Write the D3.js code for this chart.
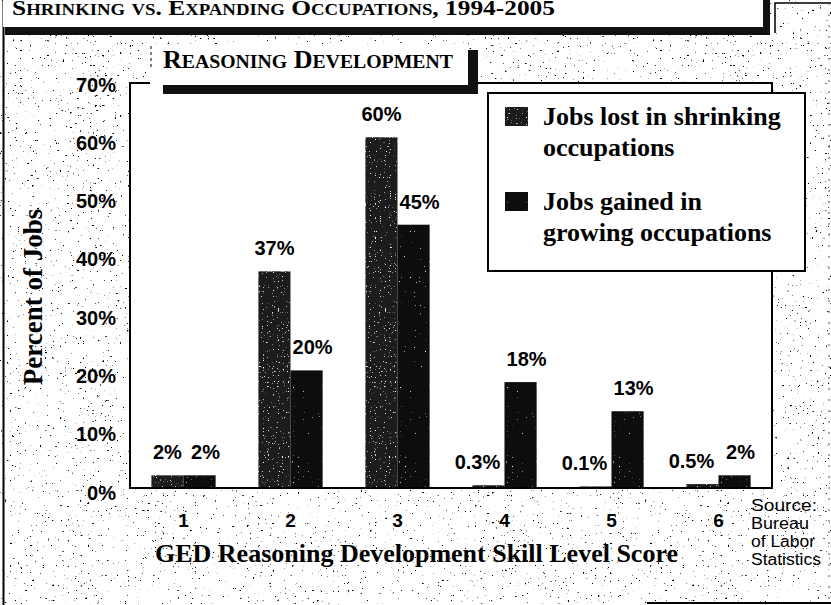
<!DOCTYPE html>
<html lang="en">
<head>
<meta charset="UTF-8">
<title>Reasoning Development</title>
<script src="https://d3js.org/d3.v7.min.js"></script>
<style>
  body, html { margin: 0; padding: 0; background: #fff; overflow: hidden; }
  svg { display: block; }
</style>
</head>
<body>
<div id="chart"></div>
<script>
// chart data
const categories = ["1", "2", "3", "4", "5", "6"];
const lostValues = [2, 37, 60, 0.3, 0.1, 0.5];
const gainedValues = [2, 20, 45, 18, 13, 2];
const lostLabels = ["2%", "37%", "60%", "0.3%", "0.1%", "0.5%"];
const gainedLabels = ["2%", "20%", "45%", "18%", "13%", "2%"];
const yTicks = [0, 10, 20, 30, 40, 50, 60, 70];
const legendLines = [["Jobs lost in shrinking", "occupations"], ["Jobs gained in", "growing occupations"]];
const sourceLines = ["Source:", "Bureau", "of Labor", "Statistics"];

const W = 831, H = 605;
const SANS = "'Liberation Sans', Arial, Helvetica, sans-serif";
const SERIF = "'Liberation Serif', 'Times New Roman', serif";
const plot = {left: 130, right: 772, top: 83, bottom: 487};

const svg = d3.select("#chart").append("svg")
    .attr("width", W).attr("height", H);

const defs = svg.append("defs");

// scanner speckle on the paper
const dots = defs.append("filter").attr("id", "dots")
    .attr("filterUnits", "userSpaceOnUse")
    .attr("x", 0).attr("y", 0).attr("width", W).attr("height", H);
dots.append("feTurbulence").attr("type", "fractalNoise")
    .attr("baseFrequency", 0.4).attr("numOctaves", 2).attr("seed", 11);
dots.append("feColorMatrix").attr("type", "matrix")
    .attr("values", "0 0 0 0 0  0 0 0 0 0  0 0 0 0 0  -16 0 0 0 4.35");

// light grain inside the bars
function grain(id, cut) {
  const f = defs.append("filter").attr("id", id)
      .attr("filterUnits", "userSpaceOnUse")
      .attr("x", 0).attr("y", 0).attr("width", W).attr("height", H);
  f.append("feTurbulence").attr("type", "fractalNoise")
      .attr("baseFrequency", 0.8).attr("numOctaves", 1).attr("seed", 3).attr("result", "n");
  f.append("feColorMatrix").attr("in", "n").attr("type", "matrix")
      .attr("values", `0 0 0 0 1  0 0 0 0 1  0 0 0 0 1  -12 0 0 0 ${cut}`).attr("result", "w");
  f.append("feComposite").attr("in", "w").attr("in2", "SourceGraphic")
      .attr("operator", "in").attr("result", "wd");
  const m = f.append("feMerge");
  m.append("feMergeNode").attr("in", "SourceGraphic");
  m.append("feMergeNode").attr("in", "wd");
}
grain("grainLost", 3.9);
grain("grainGained", 3.2);

// background
svg.append("rect").attr("width", W).attr("height", H).attr("fill", "#fff");
svg.append("rect").attr("width", W).attr("height", H).attr("fill", "#000")
    .attr("filter", "url(#dots)");

// outer frame bits
svg.append("line").attr("x1", 3.5).attr("x2", 3.5).attr("y1", 0).attr("y2", H)
    .attr("stroke", "#000").attr("stroke-width", 2);
svg.append("path").attr("d", "M775,33V3H831").attr("fill", "none")
    .attr("stroke", "#000").attr("stroke-width", 1.5);
svg.append("line").attr("x1", 829).attr("x2", 829).attr("y1", 3).attr("y2", H)
    .attr("stroke", "#555").attr("stroke-width", 1).attr("stroke-dasharray", "2,9");
svg.append("line").attr("x1", 647).attr("x2", W).attr("y1", 603).attr("y2", 603)
    .attr("stroke", "#000").attr("stroke-width", 2);

// small caps helper
function smallCaps(sel, str, size, ratio) {
  const parts = str.match(/[a-z]+|[^a-z]+/g);
  parts.forEach(p => {
    const lower = /[a-z]/.test(p[0]);
    sel.append("tspan")
        .attr("font-size", lower ? size * ratio : size)
        .text(lower ? p.toUpperCase() : p);
  });
}
function fitWidth(sel, x, y, target) {
  const w = sel.node().getComputedTextLength();
  sel.attr("transform", `translate(${x},${y}) scale(${target / w},1)`);
}

// title box
svg.append("rect").attr("x", 3).attr("y", -10).attr("width", 760).attr("height", 37).attr("fill", "#fff");
svg.append("rect").attr("x", 5).attr("y", 27).attr("width", 765).attr("height", 8).attr("fill", "#111");
svg.append("rect").attr("x", 763).attr("y", -2).attr("width", 7).attr("height", 37).attr("fill", "#111");
const title = svg.append("text").attr("font-family", SERIF).attr("font-weight", "bold").attr("fill", "#000");
smallCaps(title, "Shrinking vs. Expanding Occupations, 1994-2005", 22, 0.74);
fitWidth(title, 12, 15, 543);

// plot area
svg.append("rect")
    .attr("x", plot.left).attr("y", plot.top)
    .attr("width", plot.right - plot.left).attr("height", plot.bottom + 1 - plot.top)
    .attr("fill", "#fff").attr("stroke", "#000").attr("stroke-width", 2);

// sub title box
svg.append("rect").attr("x", 150).attr("y", 44).attr("width", 318).attr("height", 41).attr("fill", "#fff");
svg.append("line").attr("x1", 151).attr("x2", 151).attr("y1", 46).attr("y2", 70)
    .attr("stroke", "#000").attr("stroke-width", 1).attr("stroke-dasharray", "3,3");
svg.append("rect").attr("x", 163).attr("y", 85).attr("width", 315).attr("height", 9).attr("fill", "#111");
svg.append("rect").attr("x", 468).attr("y", 50).attr("width", 10).attr("height", 44).attr("fill", "#111");
const sub = svg.append("text").attr("font-family", SERIF).attr("font-weight", "bold").attr("fill", "#000");
smallCaps(sub, "Reasoning Development", 26, 0.76);
fitWidth(sub, 163, 68, 290);

// scales
const x = d3.scaleBand().domain(categories)
    .range([plot.left, plot.right]).paddingInner(0.4).paddingOuter(0.2);
const x1 = d3.scaleBand().domain(["lost", "gained"]).range([0, x.bandwidth()]);
const y = d3.scaleLinear().domain([0, 70]).range([plot.bottom, 79]);

const rows = categories.map((c, i) => ({
  c,
  bars: [
    {s: "lost", v: lostValues[i], label: lostLabels[i]},
    {s: "gained", v: gainedValues[i], label: gainedLabels[i]}
  ]
}));

const fills = {lost: "#1e1e1e", gained: "#0a0a0a"};
const grains = {lost: "url(#grainLost)", gained: "url(#grainGained)"};

const groups = svg.append("g").selectAll("g").data(rows).join("g")
    .attr("transform", d => `translate(${x(d.c)},0)`);

groups.selectAll("rect").data(d => d.bars).join("rect")
    .attr("x", d => x1(d.s))
    .attr("y", d => y(d.v))
    .attr("width", x1.bandwidth())
    .attr("height", d => y(0) - y(d.v))
    .attr("fill", d => fills[d.s])
    .attr("filter", d => grains[d.s]);

groups.selectAll("text").data(d => d.bars).join("text")
    .attr("x", d => x1(d.s) + x1.bandwidth() / 2 + (d.s === "gained" ? 6 : (d.v < 1 ? -11 : 0)))
    .attr("y", d => y(d.v) - 16)
    .attr("text-anchor", "middle")
    .attr("font-family", SANS).attr("font-weight", "bold").attr("font-size", 20)
    .attr("fill", "#000")
    .text(d => d.label);

// axes
const yAxis = svg.append("g").attr("transform", `translate(${plot.left},0)`)
    .call(d3.axisLeft(y).tickValues(yTicks).tickFormat(d => d + "%").tickSize(0).tickPadding(14));
yAxis.select(".domain").remove();
yAxis.selectAll("text").attr("dy", "0.6em")
    .attr("font-family", SANS).attr("font-weight", "bold").attr("font-size", 20).attr("fill", "#000");

const xAxis = svg.append("g").attr("transform", `translate(0,${plot.bottom + 1})`)
    .call(d3.axisBottom(x).tickSize(0).tickPadding(26));
xAxis.select(".domain").remove();
xAxis.selectAll("text")
    .attr("font-family", SANS).attr("font-weight", "bold").attr("font-size", 19).attr("fill", "#000");

// axis titles
svg.append("text")
    .attr("transform", "translate(42,297) rotate(-90)")
    .attr("text-anchor", "middle")
    .attr("font-family", SERIF).attr("font-weight", "bold").attr("font-size", 27)
    .attr("fill", "#000")
    .text("Percent of Jobs");

svg.append("text")
    .attr("x", 155).attr("y", 562)
    .attr("font-family", SERIF).attr("font-weight", "bold").attr("font-size", 26)
    .attr("textLength", 523).attr("lengthAdjust", "spacingAndGlyphs")
    .attr("fill", "#000")
    .text("GED Reasoning Development Skill Level Score");

// legend
svg.append("rect").attr("x", 488).attr("y", 93).attr("width", 317).attr("height", 178)
    .attr("fill", "#fff").attr("stroke", "#000").attr("stroke-width", 2);
const leg = svg.append("g").selectAll("g").data(["lost", "gained"]).join("g")
    .attr("transform", (d, i) => `translate(505,${[107, 192][i]})`);
leg.append("rect").attr("width", 23).attr("height", 19)
    .attr("fill", d => fills[d]).attr("filter", d => grains[d]);
leg.each(function(d, i) {
  d3.select(this).selectAll("text").data(legendLines[i]).join("text")
      .attr("x", 38).attr("y", (t, j) => 18 + j * 31)
      .attr("font-family", SERIF).attr("font-weight", "bold").attr("font-size", 26)
      .attr("fill", "#000")
      .text(t => t);
});

// source note
svg.append("g").selectAll("text").data(sourceLines).join("text")
    .attr("x", 751).attr("y", (d, i) => 511 + i * 18)
    .attr("font-family", SANS).attr("font-size", 16).attr("fill", "#000")
    .attr("textLength", (d, i) => [66, 58, 64, 70][i]).attr("lengthAdjust", "spacingAndGlyphs")
    .text(d => d);
</script>
</body>
</html>
